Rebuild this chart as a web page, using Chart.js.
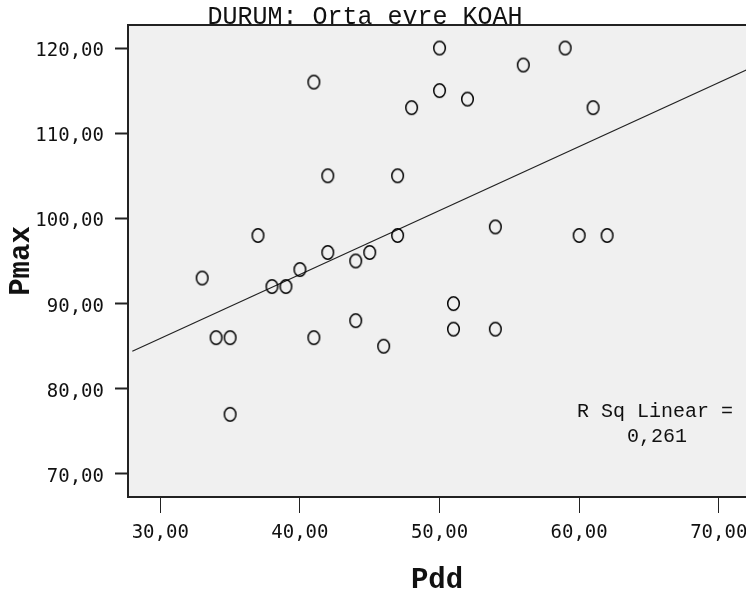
<!DOCTYPE html>
<html>
<head>
<meta charset="utf-8">
<title>Pmax - Pdd</title>
<script src="https://cdn.jsdelivr.net/npm/chart.js@4.4.1/dist/chart.umd.min.js"></script>
<style>
  html, body { margin:0; padding:0; background:#fff; overflow:hidden; }
  #wrap { position:relative; width:746px; height:599px; }
</style>
</head>
<body>
<div id="wrap"><canvas id="chart" width="746" height="599"></canvas></div>
<script>
// ===== データ =====
const pddValues  = [33,34,35,35,37,38,39,40,41,41,42,42,44,44,45,46,47,47,48,50,50,51,51,52,54,54,56,59,60,61,62];
const pmaxValues = [93,86,86,77,98,92,92,94,116,86,105,96,95,88,96,85,105,98,113,120,115,90,87,114,99,87,118,120,98,113,98];
const fitX = [28, 72];          // 回帰直線の両端 (Pdd)
const fitY = [84.4, 117.45];    // 回帰直線の両端 (Pmax)
const xTicks = [30, 40, 50, 60, 70];
const yTicks = [70, 80, 90, 100, 110, 120];
const chartTitle = 'DURUM: Orta evre KOAH';
const rsqLines = ['R Sq Linear =', '0,261'];

// ===== ユーティリティ =====
const fmt = v => Number(v).toFixed(2).replace('.', ',');
const ink = '#111';

function ringImage(){
  const c = document.createElement('canvas');
  c.width = 15; c.height = 17;
  const g = c.getContext('2d');
  g.strokeStyle = '#000'; g.lineWidth = 1.5;
  g.beginPath(); g.ellipse(7.5, 8.5, 5.8, 6.8, 0, 0, Math.PI*2); g.stroke();
  return c;
}

// 背景・上枠・テキスト
const frame = {
  id: 'frame',
  beforeDraw(chart){
    const {ctx, chartArea:a} = chart;
    ctx.save();
    ctx.fillStyle = '#f0f0f0';
    ctx.fillRect(a.left, a.top, a.right - a.left, a.bottom - a.top);
    ctx.restore();
  },
  afterDraw(chart){
    const {ctx, chartArea:a} = chart;
    ctx.save();
    ctx.strokeStyle = '#222'; ctx.lineWidth = 2;
    ctx.beginPath(); ctx.moveTo(a.left - 1, a.top); ctx.lineTo(a.right, a.top); ctx.stroke();

    ctx.fillStyle = ink;
    ctx.textAlign = 'center';
    ctx.textBaseline = 'alphabetic';
    ctx.font = '25px "Liberation Mono"';
    ctx.fillText(chartTitle, 365, a.top - 1);

    ctx.font = '20px "Liberation Mono"';
    ctx.fillText(rsqLines[0], 655, 417);
    ctx.fillText(rsqLines[1], 657, 442);
    ctx.restore();
  }
};

const tickFont = { family: 'DejaVu Sans Mono', size: 19 };
const titleFont = { family: 'Liberation Mono', size: 29, weight: 'bold' };

new Chart(document.getElementById('chart'), {
  type: 'scatter',
  data: {
    datasets: [
      {
        label: 'Pmax',
        data: pddValues.map((x, i) => ({ x, y: pmaxValues[i] })),
        pointStyle: ringImage(),
        pointRadius: 7,
        order: 1
      },
      {
        type: 'line',
        label: 'Fit',
        data: fitX.map((x, i) => ({ x, y: fitY[i] })),
        borderColor: '#222',
        borderWidth: 1.2,
        pointRadius: 0,
        fill: false,
        order: 2
      }
    ]
  },
  options: {
    responsive: false,
    animation: false,
    devicePixelRatio: 1,
    layout: { autoPadding: false, padding: { top: 25, right: 0, bottom: 0, left: 0 } },
    plugins: { legend: { display: false }, tooltip: { enabled: false }, title: { display: false } },
    scales: {
      x: {
        type: 'linear', min: 27.69, max: 71.95,
        afterBuildTicks: s => { s.ticks = xTicks.map(v => ({ value: v })); },
        afterFit: s => { s.height = 102; s.paddingLeft = 0; s.paddingRight = 0; },
        grid: { drawOnChartArea: false, drawTicks: true, tickLength: 16, tickWidth: 1, tickColor: '#222' },
        border: { display: true, color: '#222', width: 2 },
        ticks: { font: tickFont, color: ink, padding: 9, maxRotation: 0, autoSkip: false, callback: fmt },
        title: { display: true, text: 'Pdd', font: titleFont, color: ink, padding: { top: 0, bottom: 1 } }
      },
      y: {
        type: 'linear', min: 67.3, max: 122.7,
        afterBuildTicks: s => { s.ticks = yTicks.map(v => ({ value: v })); },
        afterFit: s => { s.width = 128; s.paddingTop = 0; s.paddingBottom = 0; },
        grid: { drawOnChartArea: false, drawTicks: true, tickLength: 13, tickWidth: 2, tickColor: '#222' },
        border: { display: true, color: '#222', width: 2 },
        ticks: { font: tickFont, color: ink, padding: 11, labelOffset: 3, autoSkip: false, callback: fmt },
        title: { display: true, text: 'Pmax', font: titleFont, color: ink, padding: { top: 4, bottom: 0 } }
      }
    }
  },
  plugins: [frame]
});
</script>
</body>
</html>
